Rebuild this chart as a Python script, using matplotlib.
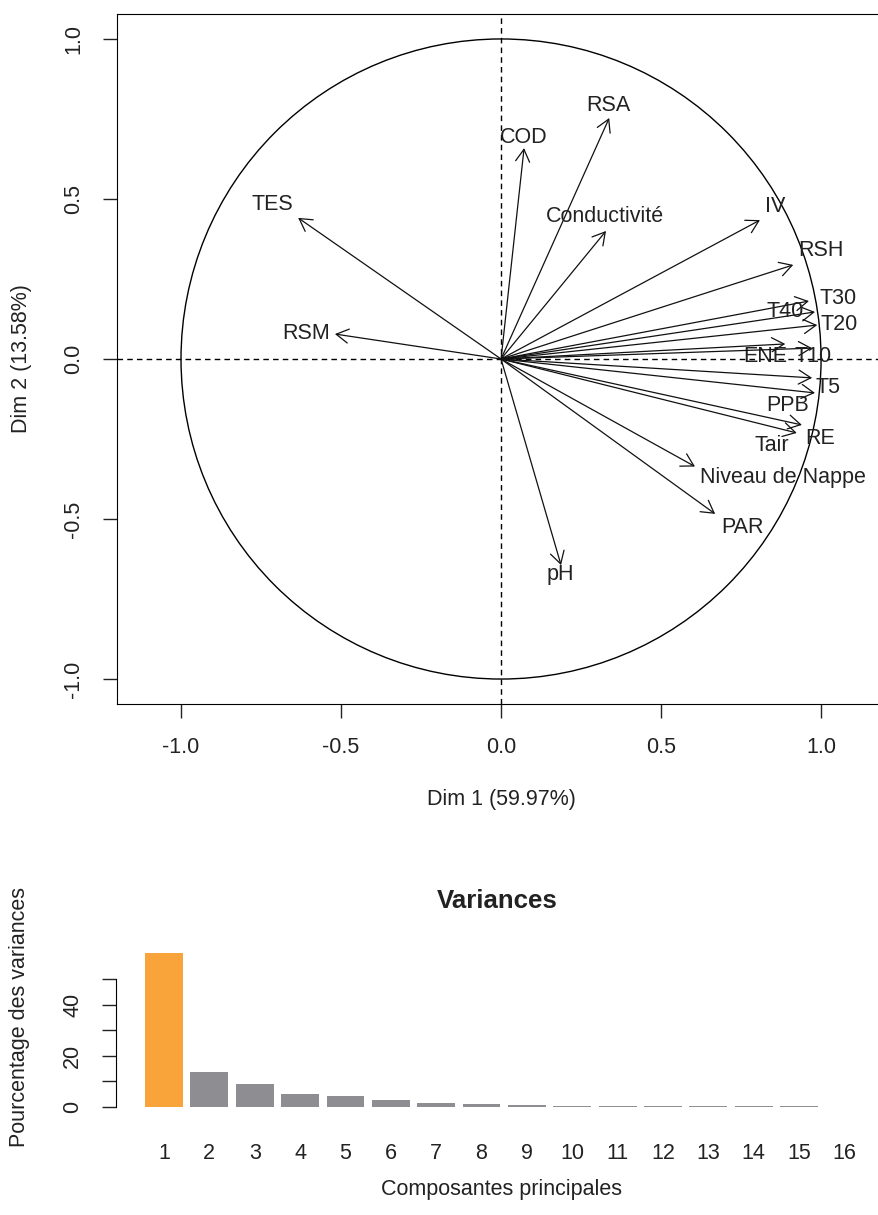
import numpy as np
import matplotlib
matplotlib.use("Agg")
import matplotlib.pyplot as plt
from matplotlib.patches import Circle

plt.rcParams['font.family'] = ['Liberation Sans', 'DejaVu Sans']

# coordonnées des variables (Dim 1, Dim 2)
variables = ['TES', 'RSM', 'COD', 'RSA', 'Conductivité', 'IV', 'RSH', 'T30', 'T40',
             'T20', 'ENE', 'T10', 'T5', 'PPB', 'RE', 'Tair', 'Niveau de Nappe', 'PAR', 'pH']
dim1 = [-0.634, -0.519, 0.072, 0.338, 0.328, 0.809, 0.913, 0.962, 0.981,
        0.988, 0.888, 0.972, 0.972, 0.981, 0.940, 0.924, 0.606, 0.669, 0.1875]
dim2 = [0.441, 0.078, 0.659, 0.753, 0.400, 0.434, 0.294, 0.181, 0.147,
        0.106, 0.047, 0.034, -0.059, -0.106, -0.206, -0.231, -0.336, -0.484, -0.644]
# positions des étiquettes (après repositionnement automatique)
lab_x = [-0.716, -0.609, 0.072, 0.334, 0.325, 0.856, 1.0, 1.053, 0.888,
         1.056, 0.825, 0.975, 1.022, 0.894, 0.997, 0.847, 0.881, 0.753, 0.184]
lab_y = [0.484, 0.081, 0.691, 0.791, 0.444, 0.475, 0.338, 0.188, 0.147,
         0.109, 0.009, 0.009, -0.088, -0.144, -0.247, -0.269, -0.369, -0.525, -0.672]

# pourcentages des variances
composantes = list(range(1, 17))
variances = [59.97, 13.58, 9.0, 5.1, 4.3, 2.7, 1.6, 1.2, 0.8, 0.45,
             0.35, 0.3, 0.3, 0.25, 0.25, 0.0]

W, H = 879, 1215
fig = plt.figure(figsize=(W / 100, H / 100), dpi=100)

def box(l, t, r, b):
    return [l / W, 1 - b / H, (r - l) / W, (b - t) / H]

fs = 15.5

# ---- cercle des corrélations
ax = fig.add_axes(box(117, 14, 879, 704))
ax.set_xlim(-1.2, 1.181)
ax.set_ylim(-1.078, 1.078)
ax.spines['right'].set_visible(False)
ax.add_patch(Circle((0, 0), 1, fill=False, lw=1, color='black'))
ax.axhline(0, ls=(0, (4, 3)), lw=1, color='black')
ax.axvline(0, ls=(0, (4, 3)), lw=1, color='black')
for i in range(len(variables)):
    ax.annotate('', xy=(dim1[i], dim2[i]), xytext=(0, 0),
                arrowprops=dict(arrowstyle='->,head_length=0.4,head_width=0.23',
                                lw=0.9, color='#111111', mutation_scale=22,
                                shrinkA=0, shrinkB=0))
    ax.text(lab_x[i], lab_y[i], variables[i], fontsize=fs, ha='center',
            va='center', color='#222222')
ax.set_xticks([-1.0, -0.5, 0.0, 0.5, 1.0])
ax.set_yticks([-1.0, -0.5, 0.0, 0.5, 1.0])
ax.set_xticklabels(['-1.0', '-0.5', '0.0', '0.5', '1.0'])
ax.set_yticklabels(['-1.0', '-0.5', '0.0', '0.5', '1.0'], rotation=90, va='center')
ax.tick_params(length=10, width=1, labelsize=fs, pad=13.5, colors='#222222')
fig.text(501 / W, 1 - 800 / H, 'Dim 1 (59.97%)', fontsize=fs, ha='center', va='center',
         color='#222222')
fig.text(22 / W, 1 - 359 / H, 'Dim 2 (13.58%)', fontsize=fs, ha='center', va='center',
         rotation=90, color='#222222')

# ---- diagramme des variances
bx = fig.add_axes(box(116, 953.4, 879, 1107))
x = 0.7 + 1.2 * np.arange(len(variances))
colors = ['#F8A43A'] + ['#8E8E92'] * (len(variances) - 1)
bx.bar(x, variances, width=1.0, color=colors, edgecolor='none')
bx.set_xlim(-0.57, 0.7 + (879 - 164) / 37.8)
bx.set_ylim(0, 60)
for s in ['top', 'right', 'bottom']:
    bx.spines[s].set_visible(False)
bx.spines['left'].set_bounds(0, 50)
bx.set_yticks([0, 10, 20, 30, 40, 50])
bx.set_yticklabels(['0', '', '20', '', '40', ''], rotation=90, va='center')
bx.set_xticks(x)
bx.set_xticklabels([str(c) for c in composantes])
bx.tick_params(axis='y', length=10, width=1, labelsize=fs, pad=13.5, colors='#222222')
bx.tick_params(axis='x', length=0, labelsize=fs, pad=26, colors='#222222')
bx.set_title('Variances', fontsize=18.6, fontweight='bold', pad=33, color='#222222')
fig.text(502 / W, 1 - 1190 / H, 'Composantes principales', fontsize=fs,
         ha='center', va='center', color='#222222')
fig.text(20 / W, 1 - 1017 / H, 'Pourcentage des variances', fontsize=fs,
         ha='center', va='center', rotation=90, color='#222222')

fig.savefig('out.png', dpi=100)
